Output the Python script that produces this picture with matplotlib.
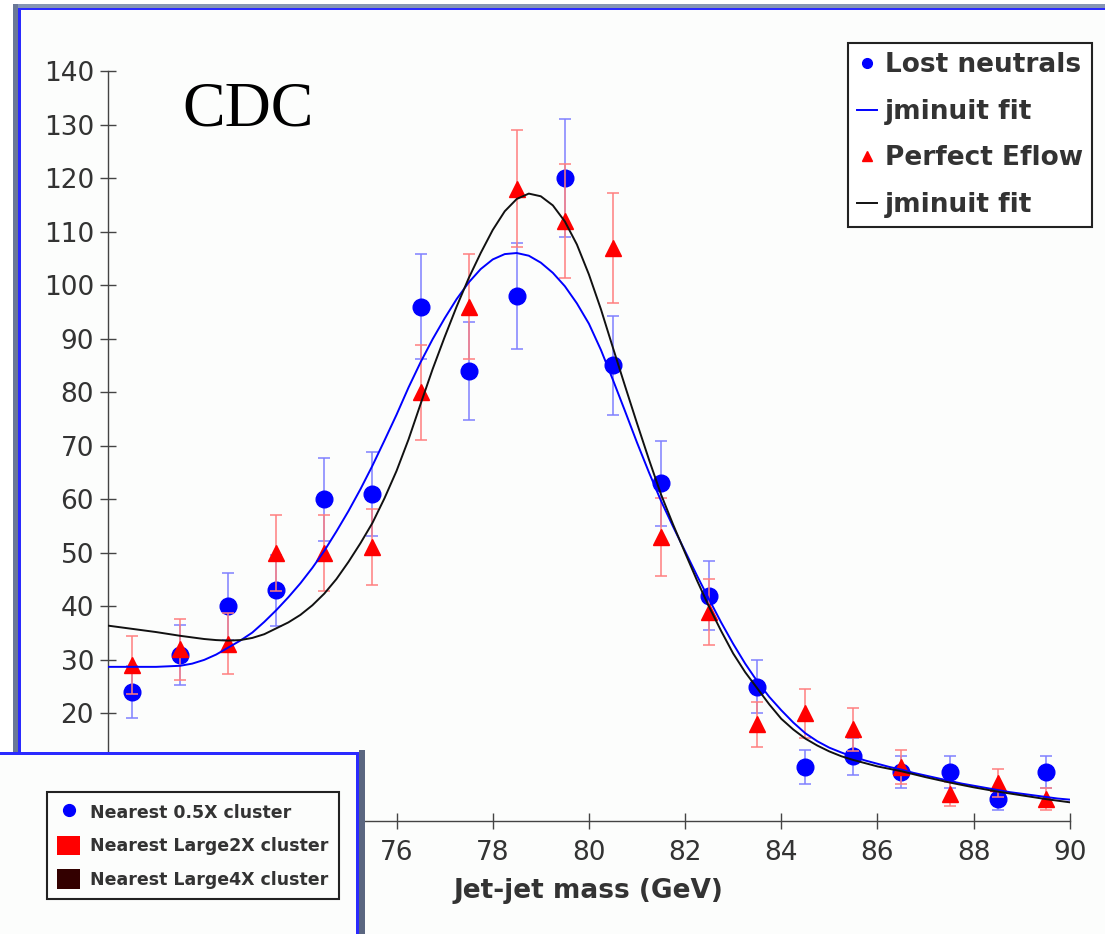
import matplotlib.pyplot as plt
from matplotlib.lines import Line2D
from matplotlib.patches import Rectangle, Patch

# bin centres (GeV) and counts
mass = [70.5, 71.5, 72.5, 73.5, 74.5, 75.5, 76.5, 77.5, 78.5, 79.5,
        80.5, 81.5, 82.5, 83.5, 84.5, 85.5, 86.5, 87.5, 88.5, 89.5]
lost_neutrals = [24, 31, 40, 43, 60, 61, 96, 84, 98, 120,
                 85, 63, 42, 25, 10, 12, 9, 9, 4, 9]
lost_err = [4.9, 5.6, 6.3, 6.6, 7.7, 7.8, 9.8, 9.2, 9.9, 11.0,
            9.2, 7.9, 6.5, 5.0, 3.2, 3.5, 3.0, 3.0, 2.0, 3.0]
perfect_eflow = [29, 32, 33, 50, 50, 51, 80, 96, 118, 112,
                 107, 53, 39, 18, 20, 17, 10, 5, 7, 4]
perfect_err = [5.4, 5.7, 5.7, 7.1, 7.1, 7.1, 8.9, 9.8, 10.9, 10.6,
               10.3, 7.3, 6.2, 4.2, 4.5, 4.1, 3.2, 2.2, 2.6, 2.0]

# fit curves every 0.25 GeV from 70 to 90
fit_mass = [70 + 0.25 * i for i in range(81)]
fit_lost = [28.7, 28.7, 28.7, 28.7, 28.7, 28.8, 28.9, 29.3, 30.0, 31.0,
            32.3, 33.6, 35.1, 37.1, 39.3, 41.7, 44.3, 47.2, 50.4, 54.0,
            57.8, 61.9, 66.3, 71.0, 75.8, 80.9, 85.6, 89.9, 93.8, 97.4,
            100.5, 103.0, 104.8, 105.8, 106.0, 105.5, 104.2, 102.3, 99.8, 96.6,
            92.8, 87.9, 82.3, 76.5, 70.6, 65.0, 59.7, 54.9, 50.3, 45.7,
            41.3, 37.0, 33.0, 29.3, 26.0, 23.1, 20.6, 18.3, 16.3, 14.8,
            13.6, 12.7, 11.9, 11.2, 10.6, 10.0, 9.5, 8.9, 8.4, 7.9,
            7.4, 6.9, 6.5, 6.1, 5.7, 5.3, 5.0, 4.7, 4.4, 4.1, 3.9]
fit_perfect = [36.4, 36.1, 35.8, 35.5, 35.2, 34.85, 34.5, 34.2, 33.9, 33.7,
               33.6, 33.7, 34.1, 34.8, 35.9, 37.0, 38.4, 40.2, 42.4, 45.1,
               48.3, 51.8, 55.6, 60.2, 65.3, 71.2, 77.8, 84.3, 90.3, 96.0,
               101.3, 106.0, 110.3, 113.8, 116.1, 117.1, 116.6, 114.9, 111.9, 107.6,
               102.0, 95.5, 88.3, 81.2, 74.2, 67.4, 60.9, 55.3, 50.0, 44.8,
               39.9, 35.4, 31.2, 27.7, 24.7, 21.7, 19.0, 17.0, 15.3, 14.0,
               12.9, 12.0, 11.3, 10.7, 10.1, 9.65, 9.2, 8.65, 8.1, 7.6,
               7.1, 6.65, 6.2, 5.8, 5.4, 5.05, 4.7, 4.35, 4.0, 3.7, 3.4]

x_ticks = list(range(70, 91, 2))
x_labels = ['', '', ''] + [str(t) for t in x_ticks[3:]]  # 70-74 sit under the panel
y_ticks = list(range(0, 141, 10))
y_labels = ['', ''] + [str(t) for t in y_ticks[2:]]

W, H = 1105, 934
fig = plt.figure(figsize=(W / 100, H / 100), dpi=100, facecolor='#fcfdfc')


def rect(x0, y0, x1, y1, color, z):
    # pixel box (top-left origin) -> figure fraction
    fig.add_artist(Rectangle((x0 / W, 1 - y1 / H), (x1 - x0) / W, (y1 - y0) / H,
                             transform=fig.transFigure, facecolor=color,
                             edgecolor='none', zorder=z))


# window frame
rect(0, 0, W, 4, 'white', 1)
rect(0, 0, 13, H, 'white', 1)
rect(13, 4, W, 8, '#8595b3', 1)
rect(13, 4, 18, H, '#6a7896', 1)
rect(18, 8, W, 10, '#2a2aff', 1)
rect(18, 8, 21, H, '#2a2aff', 1)

ax = fig.add_axes([108 / W, 1 - 820.5 / H, (1069.8 - 108) / W, (820.5 - 71) / H])
ax.set_facecolor('none')

ax.errorbar(mass, lost_neutrals, yerr=lost_err, fmt='o', color='#0000ff', ms=12,
            ecolor='#8080ff', elinewidth=1.1, capsize=4.5, capthick=1.1, zorder=2)
ax.errorbar(mass, perfect_eflow, yerr=perfect_err, fmt='^', color='#ff0000', ms=12,
            ecolor='#ff7f7f', elinewidth=1.1, capsize=4.5, capthick=1.1, zorder=2.5)
ax.plot(fit_mass, fit_lost, color='#0000ff', lw=1.4, zorder=4)
ax.plot(fit_mass, fit_perfect, color='#111111', lw=1.4, zorder=4)

ax.set_xlim(70, 90)
ax.set_ylim(0, 140)
ax.set_xticks(x_ticks, x_labels)
ax.set_yticks(y_ticks, y_labels)
for s in ['top', 'right']:
    ax.spines[s].set_visible(False)
for s in ['left', 'bottom']:
    ax.spines[s].set_color('#444444')
    ax.spines[s].set_linewidth(1)
ax.tick_params(direction='inout', length=12, width=1, color='#444444',
               labelsize=19, labelcolor='#333333', pad=4)
ax.tick_params(axis='x', pad=8)
ax.set_xlabel('Jet-jet mass (GeV)', fontsize=19, fontweight='bold',
              color='#333333', labelpad=9)

fig.text(182 / W, 1 - 126 / H, 'CDC', family='Liberation Serif', fontsize=46,
         color='black', ha='left', va='baseline')

handles = [Line2D([], [], marker='o', ls='none', color='#0000ff', ms=7),
           Line2D([], [], color='#0000ff', lw=1.4),
           Line2D([], [], marker='^', ls='none', color='#ff0000', ms=7),
           Line2D([], [], color='#111111', lw=1.4)]
labels = ['Lost neutrals', 'jminuit fit', 'Perfect Eflow', 'jminuit fit']
leg = ax.legend(handles, labels, loc='upper right',
                bbox_to_anchor=(1092 / W, 1 - 43 / H), bbox_transform=fig.transFigure,
                prop={'weight': 'bold', 'size': 19}, labelcolor='#333333',
                fancybox=False, framealpha=1, edgecolor='#222222',
                handlelength=0.75, handletextpad=0.3, borderpad=0.35,
                labelspacing=0.78, borderaxespad=0)
leg.get_frame().set_linewidth(1.5)

# overlapping panel at the bottom left
rect(0, 753, 358, H, '#fcfdfc', 5)
rect(0, 752, 358, 755, '#2a2aff', 5)
rect(356, 752, 359, H, '#2a2aff', 5)
rect(359, 750, 365, H, '#5a6680', 5)

cluster_handles = [Line2D([], [], marker='o', ls='none', color='#0000ff', ms=8.5),
                   Patch(facecolor='#ff0000', edgecolor='none'),
                   Patch(facecolor='#330000', edgecolor='none')]
cluster_labels = ['Nearest 0.5X cluster', 'Nearest Large2X cluster',
                  'Nearest Large4X cluster']
leg2 = fig.legend(cluster_handles, cluster_labels, loc='upper left',
                  bbox_to_anchor=(47 / W, 1 - 792 / H),
                  prop={'weight': 'bold', 'size': 12.5}, labelcolor='#333333',
                  fancybox=False, framealpha=1, facecolor='#fcfdfc', edgecolor='#222222',
                  handlelength=1.3, handleheight=1.35, handletextpad=0.6,
                  borderpad=0.6, labelspacing=0.8, borderaxespad=0)
leg2.get_frame().set_linewidth(1.5)
leg2.set_zorder(10)

fig.savefig('out.png', dpi=100, facecolor=fig.get_facecolor())
